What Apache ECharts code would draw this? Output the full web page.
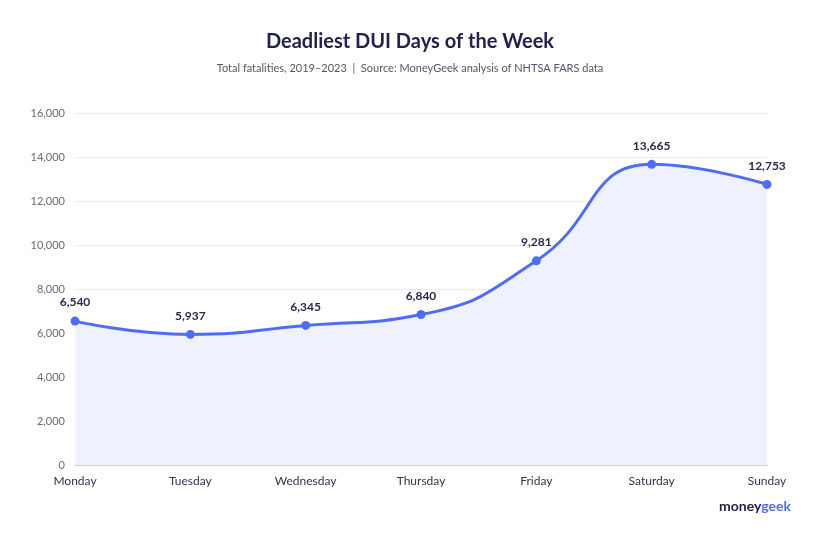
<!DOCTYPE html>
<html>
<head>
<meta charset="utf-8">
<script src="https://cdn.jsdelivr.net/npm/echarts@6/dist/echarts.min.js"></script>
<style>
  html, body { margin: 0; padding: 0; background: #fff; }
  #chart { width: 820px; height: 547px; }
</style>
</head>
<body>
<div id="chart"></div>
<script>
// data
var days = ['Monday', 'Tuesday', 'Wednesday', 'Thursday', 'Friday', 'Saturday', 'Sunday'];
var fatalities = [6540, 5937, 6345, 6840, 9281, 13665, 12753];

var chart = echarts.init(document.getElementById('chart'));
chart.setOption({
  textStyle: { fontFamily: 'Lato' },
  title: {
    text: 'Deadliest DUI Days of the Week',
    subtext: 'Total fatalities, 2019\u20132023  |  Source: MoneyGeek analysis of NHTSA FARS data',
    left: 'center',
    top: 27,
    itemGap: 11,
    textStyle: { fontSize: 20, fontWeight: 'bold', color: '#23224f', fontFamily: 'Lato' },
    subtextStyle: { fontSize: 11, color: '#55556a', fontFamily: 'Lato' }
  },
  grid: { left: 75, right: 53, top: 113, bottom: 82 },
  xAxis: {
    type: 'category',
    data: days,
    boundaryGap: false,
    axisLine: { lineStyle: { color: '#d0d0d8' } },
    axisTick: { show: false },
    axisLabel: { color: '#33334a', fontSize: 12, margin: 10 }
  },
  yAxis: {
    type: 'value',
    min: 0,
    max: 16000,
    interval: 2000,
    axisLine: { show: false },
    axisTick: { show: false },
    splitLine: { lineStyle: { color: '#ebebf0' } },
    axisLabel: {
      color: '#6a6a7a',
      fontSize: 11,
      margin: 10,
      formatter: function (v) { return v.toLocaleString('en-US'); }
    }
  },
  series: [{
    type: 'line',
    data: fatalities,
    smooth: 0.5,
    symbol: 'circle',
    symbolSize: 9,
    itemStyle: { color: '#4f6cf6' },
    lineStyle: { color: '#4f6cf6', width: 3 },
    areaStyle: { color: '#eff1fd', opacity: 1 },
    label: {
      show: true,
      position: 'top',
      distance: 8,
      color: '#2a2850',
      fontSize: 12,
      fontWeight: 'bold',
      formatter: function (p) { return p.value.toLocaleString('en-US'); }
    }
  }],
  graphic: [{
    type: 'text',
    right: 29,
    top: 499,
    style: {
      text: '{a|money}{b|geek}',
      rich: {
        a: { fontSize: 14, fontWeight: 'bold', fill: '#23224f', fontFamily: 'Lato' },
        b: { fontSize: 14, fontWeight: 'bold', fill: '#4f6cf6', fontFamily: 'Lato' }
      }
    }
  }]
});
</script>
</body>
</html>
